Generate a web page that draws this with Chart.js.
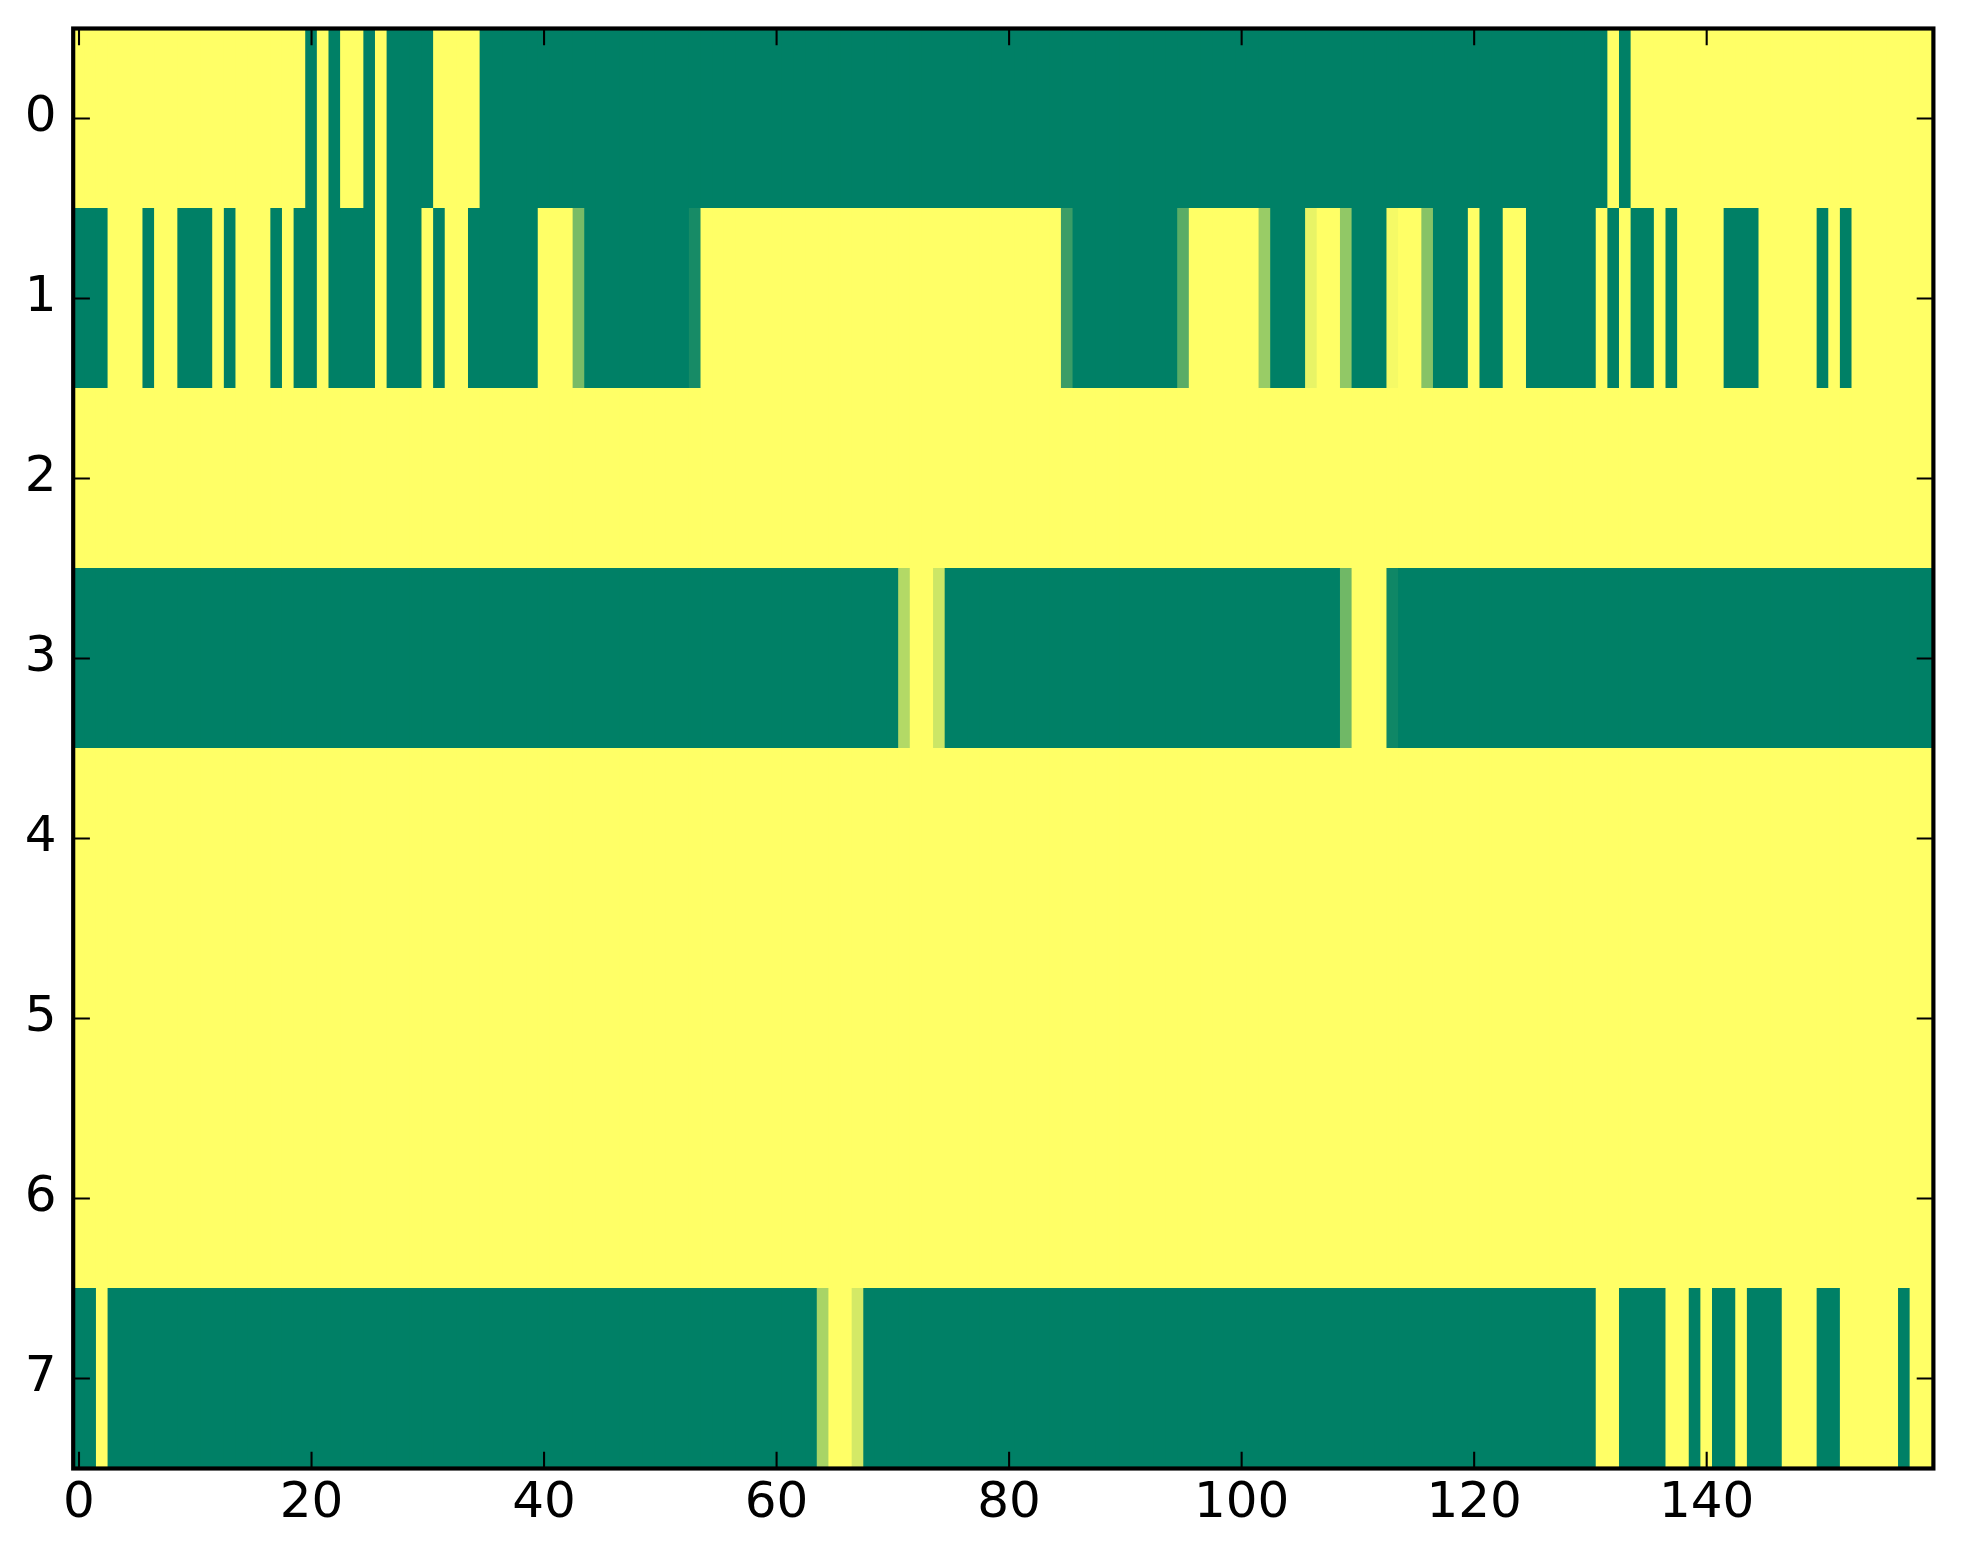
<!DOCTYPE html>
<html>
<head>
  <title>Row states</title>
  <script src="https://cdn.jsdelivr.net/npm/chart.js"></script>
  <style>
    html, body { margin: 0; padding: 0; background: #fff; }
    canvas { display: block; }
  </style>
</head>
<body>
  <canvas id="myChart" width="1963" height="1564"></canvas>

  <script>
// row labels (top to bottom) and x ticks
const rowLabels = ['0', '1', '2', '3', '4', '5', '6', '7'];
const xTickValues = [0, 20, 40, 60, 80, 100, 120, 140];

// one value per column (0..159), 0 = green, 1 = yellow
const row0 = [
  1,1,1,1,1,1,1,1,1,1, 1,1,1,1,1,1,1,1,1,1,
  0,1,0,1,1,0,1,0,0,0, 0,1,1,1,1,0,0,0,0,0,
  0,0,0,0,0,0,0,0,0,0, 0,0,0,0,0,0,0,0,0,0,
  0,0,0,0,0,0,0,0,0,0, 0,0,0,0,0,0,0,0,0,0,
  0,0,0,0,0,0,0,0,0,0, 0,0,0,0,0,0,0,0,0,0,
  0,0,0,0,0,0,0,0,0,0, 0,0,0,0,0,0,0,0,0,0,
  0,0,0,0,0,0,0,0,0,0, 0,0,1,0,1,1,1,1,1,1,
  1,1,1,1,1,1,1,1,1,1, 1,1,1,1,1,1,1,1,1,1
];
const row1 = [
  0,0,0,1,1,1,0,1,1,0, 0,0,1,0,1,1,1,0,1,0,
  0,1,0,0,0,0,1,0,0,0, 1,0,1,1,0,0,0,0,0,0,
  1,1,1,0.47,0,0,0,0,0,0, 0,0,0,0.09,1,1,1,1,1,1,
  1,1,1,1,1,1,1,1,1,1, 1,1,1,1,1,1,1,1,1,1,
  1,1,1,1,1,0.23,0,0,0,0, 0,0,0,0,0,0.35,1,1,1,1,
  1,1,0.6,0,0,0,0.91,1,1,0.57, 0,0,0,0.96,1,1,0.53,0,0,0,
  1,0,0,1,1,0,0,0,0,0, 0,1,0,1,0,0,1,0,1,1,
  1,1,0,0,0,1,1,1,1,1, 0,1,0,1,1,1,1,1,1,1
];
const row2 = [
  1,1,1,1,1,1,1,1,1,1, 1,1,1,1,1,1,1,1,1,1,
  1,1,1,1,1,1,1,1,1,1, 1,1,1,1,1,1,1,1,1,1,
  1,1,1,1,1,1,1,1,1,1, 1,1,1,1,1,1,1,1,1,1,
  1,1,1,1,1,1,1,1,1,1, 1,1,1,1,1,1,1,1,1,1,
  1,1,1,1,1,1,1,1,1,1, 1,1,1,1,1,1,1,1,1,1,
  1,1,1,1,1,1,1,1,1,1, 1,1,1,1,1,1,1,1,1,1,
  1,1,1,1,1,1,1,1,1,1, 1,1,1,1,1,1,1,1,1,1,
  1,1,1,1,1,1,1,1,1,1, 1,1,1,1,1,1,1,1,1,1
];
const row3 = [
  0,0,0,0,0,0,0,0,0,0, 0,0,0,0,0,0,0,0,0,0,
  0,0,0,0,0,0,0,0,0,0, 0,0,0,0,0,0,0,0,0,0,
  0,0,0,0,0,0,0,0,0,0, 0,0,0,0,0,0,0,0,0,0,
  0,0,0,0,0,0,0,0,0,0, 0,0.7,1,1,0.8,0,0,0,0,0,
  0,0,0,0,0,0,0,0,0,0, 0,0,0,0,0,0,0,0,0,0,
  0,0,0,0,0,0,0,0,0,0.44, 1,1,1,0.06,0,0,0,0,0,0,
  0,0,0,0,0,0,0,0,0,0, 0,0,0,0,0,0,0,0,0,0,
  0,0,0,0,0,0,0,0,0,0, 0,0,0,0,0,0,0,0,0,0
];
const row4 = row2.slice();
const row5 = row2.slice();
const row6 = row2.slice();
const row7 = [
  0,0,1,0,0,0,0,0,0,0, 0,0,0,0,0,0,0,0,0,0,
  0,0,0,0,0,0,0,0,0,0, 0,0,0,0,0,0,0,0,0,0,
  0,0,0,0,0,0,0,0,0,0, 0,0,0,0,0,0,0,0,0,0,
  0,0,0,0,0.66,1,1,0.83,0,0, 0,0,0,0,0,0,0,0,0,0,
  0,0,0,0,0,0,0,0,0,0, 0,0,0,0,0,0,0,0,0,0,
  0,0,0,0,0,0,0,0,0,0, 0,0,0,0,0,0,0,0,0,0,
  0,0,0,0,0,0,0,0,0,0, 0,1,1,0,0,0,0,1,1,0,
  1,0,0,1,0,0,0,1,1,1, 0,0,1,1,1,1,1,0,1,1
];
const rows = [row0, row1, row2, row3, row4, row5, row6, row7];

// matplotlib 'summer' colormap
function summer(v) {
  const r = Math.round(255 * v);
  const g = Math.round(255 * (0.5 + 0.5 * v));
  return `rgb(${r}, ${g}, 102)`;
}

// each cell is a floating bar spanning its column
const cells = [];
rows.forEach((vals, r) => {
  vals.forEach((v, c) => {
    cells.push({ x: [c - 0.5, c + 0.5], y: rowLabels[r], v: v });
  });
});

const FONT = { family: 'DejaVu Sans', size: 50 };

// black frame plus inward ticks on all four sides
const framePlugin = {
  id: 'frame',
  afterDatasetsDraw(chart) {
    const { ctx, chartArea: a, scales } = chart;
    const len = 16.7;
    ctx.save();
    ctx.strokeStyle = '#000';
    ctx.lineWidth = 2.08;
    ctx.beginPath();
    scales.x.ticks.forEach(t => {
      const px = scales.x.getPixelForValue(t.value);
      ctx.moveTo(px, a.bottom); ctx.lineTo(px, a.bottom - len);
      ctx.moveTo(px, a.top); ctx.lineTo(px, a.top + len);
    });
    scales.y.ticks.forEach((t, i) => {
      const py = scales.y.getPixelForTick(i);
      ctx.moveTo(a.left, py); ctx.lineTo(a.left + len, py);
      ctx.moveTo(a.right, py); ctx.lineTo(a.right - len, py);
    });
    ctx.stroke();
    ctx.lineWidth = 4.17;
    ctx.strokeRect(a.left, a.top, a.right - a.left, a.bottom - a.top);
    ctx.restore();
  }
};

// keep the label overhang from moving the plot box
function noPadding(s) {
  s.paddingTop = 0;
  s.paddingBottom = 0;
  s.paddingLeft = 0;
  s.paddingRight = 0;
}

const myChart = new Chart(document.getElementById('myChart'), {
  type: 'bar',
  data: {
    labels: rowLabels,
    datasets: [{
      data: cells,
      backgroundColor: (c) => c.raw ? summer(c.raw.v) : '#000',
      borderWidth: 0,
      inflateAmount: 0.5,  // hide hairline seams between neighbouring cells
      barPercentage: 1,
      categoryPercentage: 1
    }]
  },
  options: {
    indexAxis: 'y',
    responsive: false,
    devicePixelRatio: 1,
    animation: false,
    layout: { padding: { left: 0, top: 28.5, right: 29.6, bottom: 0 } },
    plugins: { legend: { display: false }, tooltip: { enabled: false } },
    scales: {
      x: {
        type: 'linear',
        position: 'bottom',
        min: -0.5,
        max: 159.5,
        afterBuildTicks: (s) => { s.ticks = xTickValues.map(v => ({ value: v })); },
        afterFit: (s) => { s.height = 95.5; noPadding(s); },
        grid: { display: false, drawTicks: false },
        border: { display: false },
        ticks: { color: '#000', font: FONT, padding: 6, maxRotation: 0, autoSkip: false }
      },
      y: {
        type: 'category',
        labels: rowLabels,
        afterFit: (s) => { s.width = 73.2; noPadding(s); },
        grid: { display: false, drawTicks: false },
        border: { display: false },
        ticks: { color: '#000', font: FONT, padding: 16.7 }
      }
    }
  },
  plugins: [framePlugin]
});
  </script>
</body>
</html>
